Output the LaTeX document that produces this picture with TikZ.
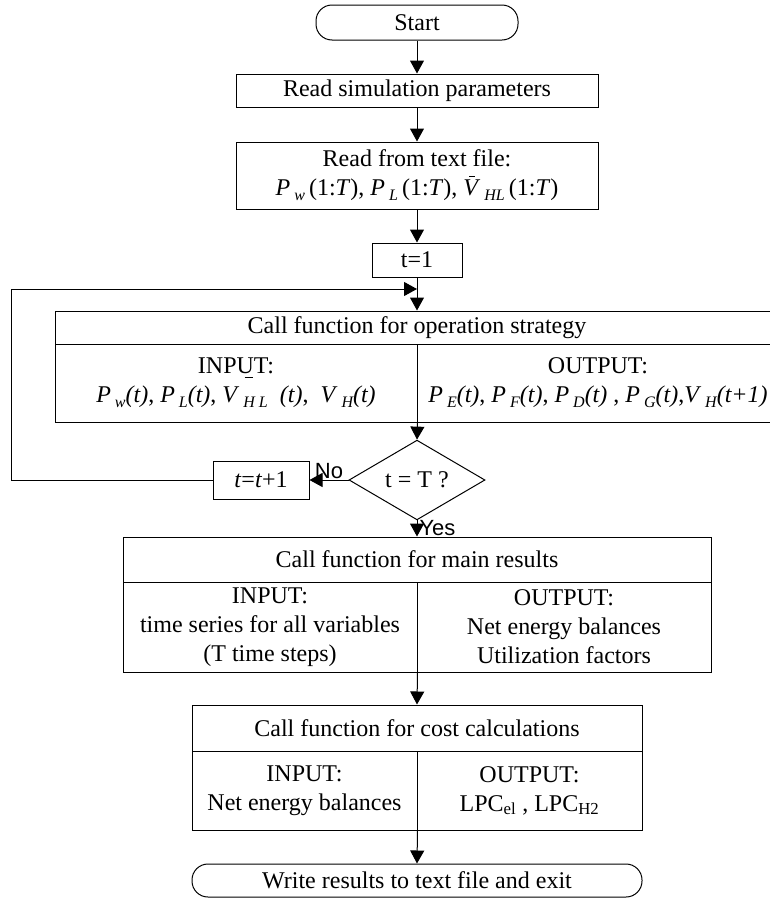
\documentclass[tikz,border=0pt]{standalone}
\usepackage{fontspec}
\setmainfont{Liberation Serif}
\newfontfamily\labelfont{Liberation Sans}
\usetikzlibrary{shapes.geometric, arrows.meta}
% italic symbol with a low subscript, as in the reference
\newcommand{\pv}[2]{\textit{#1}\,\raisebox{-5pt}{\fontsize{16}{16}\selectfont\itshape #2}}
\newcommand{\vbar}{\makebox[0pt][l]{\hspace{6pt}\raisebox{19pt}{\rule{6pt}{1.2pt}}}}
\newcommand{\ubar}{\makebox[0pt][l]{\hspace{8pt}\rule[-4pt]{8pt}{1.2pt}}}

\begin{document}
\begin{tikzpicture}[
    x=1pt, y=-1pt,
    line width=1pt,
    >={Triangle[length=13pt,width=14pt]},
    every node/.style={font=\fontsize{24}{29}\selectfont, inner sep=0pt},
    box/.style={draw, rectangle, align=center},
    term/.style={draw, rounded corners=16pt, align=center},
    yesno/.style={font=\labelfont\fontsize{22}{24}\selectfont},
]

% Frame
\useasboundingbox (0,0) rectangle (769,900);

% --- Top: start and reading ---
\node[term, minimum width=202pt, minimum height=35pt] (start) at (417,22.5) {Start};
\node[box, minimum width=362pt, minimum height=33pt] (readpar) at (417,90.5) {Read simulation parameters};
\node[box, minimum width=362pt, minimum height=67pt] (readfile) at (417,175.5)
      {Read from text file:\\ \pv{P}{w}\,(1:\textit{T}), \pv{P}{L}\,(1:\textit{T}), \vbar\pv{V}{HL}\,(1:\textit{T})};
\node[box, minimum width=90pt, minimum height=34pt] (tinit) at (417,260) {t=1};

% --- Operation strategy ---
\node[box, minimum width=724pt, minimum height=33pt] (optitle) at (417,327.5) {Call function for operation strategy};
\node[box, minimum width=362pt, minimum height=78pt] (opin) at (236,383)
      {INP\ubar UT:\\ \pv{P}{w}\textit{(t)}, \pv{P}{L}\textit{(t)}, \pv{V}{H L}\ \ \textit{(t)},\ \ \pv{V}{H}\textit{(t)}};
\node[box, minimum width=362pt, minimum height=78pt] (opout) at (598,383)
      {OUTPUT:\\ \pv{P}{E}\textit{(t)}, \pv{P}{F}\textit{(t)}, \pv{P}{D}\textit{(t)} , \pv{P}{G}\textit{(t)},\pv{V}{H}\textit{(t+1)}};

% --- Loop test ---
\node[draw, diamond, minimum width=136pt, minimum height=44pt] (check) at (417,480) {t = T ?};
\node[box, minimum width=96pt, minimum height=38pt] (tinc) at (261,480) {\textit{t}=\textit{t}+1};
\coordinate (loop) at (11,289);

% --- Main results ---
\node[box, minimum width=588pt, minimum height=45pt] (restitle) at (417,559.5) {Call function for main results};
\node[box, minimum width=294pt, minimum height=90pt] (resin) at (270,627)
      {INPUT:\\ time series for all variables\\ (T time steps)};
\node[box, minimum width=294pt, minimum height=90pt] (resout) at (564,627)
      {OUTPUT:\\ Net energy balances\\ Utilization factors};

% --- Cost calculations ---
\node[box, minimum width=450pt, minimum height=46pt] (costtitle) at (417,728) {Call function for cost calculations};
\node[box, minimum width=225pt, minimum height=79pt] (costin) at (304.5,790.5)
      {INPUT:\\ Net energy balances};
\node[box, minimum width=225pt, minimum height=79pt] (costout) at (529.5,790.5)
      {OUTPUT:\\ LPC\textsubscript{el} , LPC\textsubscript{H2}};

\node[term, minimum width=450pt, minimum height=33pt] (finish) at (417,880.5) {Write results to text file and exit};

% --- Arrows ---
\draw[->] (start) -- (readpar);
\draw[->] (readpar) -- (readfile);
\draw[->] (readfile) -- (tinit);
\draw[->] (tinit) -- (optitle);
\draw[->] (opin.south east) -- (check.north);
\draw[->] (check.west) -- node[yesno, above, yshift=1pt] {No} (tinc.east);
\draw[->] (tinc.west) -| (loop) -- (loop -| tinit);
\draw[->] (check.south) -- node[yesno, right, xshift=2pt] {Yes} (restitle.north);
\draw[->] (resin.south east) -- (costtitle.north);
\draw[->] (costin.south east) -- (finish.north);

\end{tikzpicture}
\end{document}
